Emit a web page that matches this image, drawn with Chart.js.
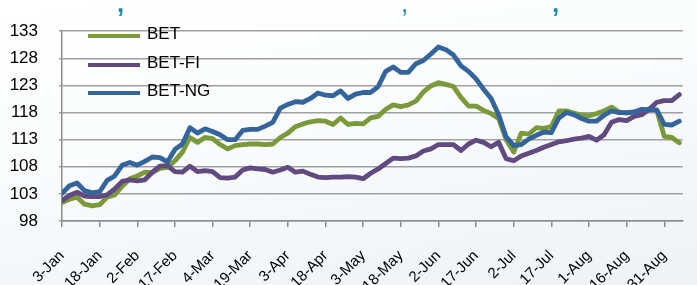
<!DOCTYPE html>
<html>
<head>
<meta charset="utf-8">
<script src="https://cdn.jsdelivr.net/npm/chart.js@4"></script>
<style>
  html, body { margin: 0; padding: 0; }
  body {
    width: 697px; height: 285px; overflow: hidden; position: relative;
    background: linear-gradient(170deg, #ffffff 0%, #f9fbfc 45%, #eef3f7 100%);
    font-family: "Liberation Sans", Arial, sans-serif;
  }
  #wrap { position: absolute; left: 0; top: 0; width: 697px; height: 285px; }
  .comma { position: absolute; top: -12px; color: #1d8ea8; font-size: 26px; font-weight: bold; }
  #legend { position: absolute; left: 88px; top: 24px; }
  .item { position: absolute; left: 0; height: 24px; white-space: nowrap; font-size: 17px; color: #000; }
  .item span.line { position: absolute; left: 0; top: 10px; width: 52px; height: 4px; }
  .item span.txt { position: absolute; left: 59px; top: 0; }
</style>
</head>
<body>
<div id="wrap"><canvas id="chart" width="697" height="285"></canvas></div>
<span class="comma" style="left:117px">,</span>
<span class="comma" style="left:401px;font-weight:normal">,</span>
<span class="comma" style="left:552px">,</span>
<div id="legend"></div>
<script>
// days counted from 3-Jan
const days = [0, 3, 6, 9, 12, 15, 18, 21, 24, 27, 30, 33, 36, 39, 42, 45, 48, 51, 54, 57,
  60, 63, 66, 69, 72, 75, 78, 81, 84, 87, 90, 93, 96, 99, 102, 105, 108, 111, 114, 117,
  120, 123, 126, 129, 132, 135, 138, 141, 144, 147, 150, 153, 156, 159, 162, 165, 168, 171, 174, 177,
  180, 183, 186, 189, 192, 195, 198, 201, 204, 207, 210, 213, 216, 219, 222, 225, 228, 231, 234, 237,
  240, 243, 246];

const tickLabels = ["3-Jan", "18-Jan", "2-Feb", "17-Feb", "4-Mar", "19-Mar", "3-Apr", "18-Apr", "3-May",
  "18-May", "2-Jun", "17-Jun", "2-Jul", "17-Jul", "1-Aug", "16-Aug", "31-Aug"];

const bet = [101.4, 102.0, 102.4, 101.1, 100.8, 101.0, 102.4, 102.8, 104.4, 105.8,
  106.3, 107.0, 106.9, 107.7, 107.9, 109.1, 110.7, 113.4, 112.5, 113.4,
  113.2, 112.1, 111.3, 111.9, 112.1, 112.2, 112.2, 112.1, 112.2, 113.4,
  114.2, 115.4, 115.9, 116.3, 116.5, 116.4, 115.8, 117.0, 115.8, 116.0,
  115.9, 117.0, 117.3, 118.6, 119.4, 119.1, 119.4, 120.1, 121.8, 122.9,
  123.5, 123.2, 122.8, 120.8, 119.2, 119.2, 118.4, 117.8, 116.9, 113.0,
  110.7, 114.2, 114.0, 115.2, 115.1, 115.4, 118.3, 118.3, 117.9, 117.5,
  117.4, 117.8, 118.3, 119.0, 118.1, 117.9, 118.1, 118.3, 118.7, 118.4,
  113.6, 113.4, 112.4];

const betFi = [101.8, 102.7, 103.3, 102.6, 102.5, 102.5, 102.8, 103.9, 105.3, 105.6,
  105.4, 105.6, 107.0, 108.1, 108.2, 107.1, 107.0, 108.1, 107.1, 107.3,
  107.1, 106.0, 105.9, 106.1, 107.4, 107.8, 107.6, 107.5, 107.0, 107.4,
  107.9, 107.0, 107.2, 106.6, 106.1, 106.0, 106.1, 106.1, 106.2, 106.1,
  105.8, 106.8, 107.6, 108.6, 109.6, 109.5, 109.6, 110.0, 110.9, 111.3,
  112.1, 112.1, 112.1, 111.0, 112.2, 112.9, 112.5, 111.7, 112.5, 109.5,
  109.1, 110.0, 110.5, 111.0, 111.6, 112.1, 112.6, 112.8, 113.1, 113.3,
  113.6, 112.9, 113.9, 116.2, 116.7, 116.5, 117.3, 117.6, 118.6, 119.9,
  120.2, 120.2, 121.3];

const betNg = [103.1, 104.5, 105.0, 103.6, 103.2, 103.4, 105.5, 106.3, 108.3, 108.8,
  108.3, 109.0, 109.8, 109.7, 108.9, 111.2, 112.2, 115.2, 114.2, 115.0,
  114.5, 113.9, 113.0, 113.0, 114.7, 114.9, 114.9, 115.5, 116.2, 118.8,
  119.5, 120.0, 119.9, 120.6, 121.6, 121.2, 121.1, 122.0, 120.6, 121.4,
  121.7, 121.7, 122.8, 125.6, 126.4, 125.4, 125.4, 127.0, 127.6, 128.8,
  130.1, 129.6, 128.6, 126.6, 125.6, 124.2, 122.3, 120.6, 117.6, 113.5,
  111.9, 112.1, 113.1, 113.8, 114.4, 114.3, 117.0, 118.0, 117.6, 116.9,
  116.4, 116.4, 117.5, 118.3, 118.0, 118.0, 118.1, 118.6, 118.5, 118.5,
  115.8, 115.7, 116.4];

const seriesNames = ["BET", "BET-FI", "BET-NG"];
const seriesColors = ["#7a9a3a", "#604a80", "#33649c"];
const seriesValues = [bet, betFi, betNg];

const toPoints = vals => vals.map((v, i) => ({ x: days[i], y: v }));

new Chart(document.getElementById("chart"), {
  type: "line",
  data: {
    datasets: seriesValues.map((vals, i) => ({
      label: seriesNames[i],
      data: toPoints(vals),
      borderColor: seriesColors[i],
      borderWidth: 4.8,
      pointRadius: 0,
      tension: 0,
      borderJoinStyle: "round",
      borderCapStyle: "round",
      order: 2 - i,
    })),
  },
  options: {
    responsive: false,
    animation: false,
    events: [],
    layout: { padding: { top: 20, left: 0, right: 0, bottom: 0 } },
    plugins: { legend: { display: false }, tooltip: { enabled: false } },
    scales: {
      x: {
        type: "linear",
        min: 0, max: 247.4,
        grid: { drawOnChartArea: false, drawTicks: true, tickLength: 6, color: "#8c8c8c", lineWidth: 1.5 },
        border: { color: "#8c8c8c", width: 1.5 },
        ticks: {
          stepSize: 15, includeBounds: false, autoSkip: false,
          maxRotation: 45, minRotation: 45, padding: 20,
          color: "#000", font: { family: "'Liberation Sans', Arial", size: 15 },
          callback: (v, i) => tickLabels[i],
        },
        afterFit: s => { s.height = 64; },
      },
      y: {
        min: 98, max: 133,
        grid: { color: "#a0a0a0", lineWidth: 1.5, tickLength: 3 },
        border: { color: "#8c8c8c", width: 1.5 },
        ticks: {
          stepSize: 5, padding: 21,
          color: "#000", font: { family: "'Liberation Sans', Arial", size: 17 },
        },
        afterFit: s => { s.width = 62; },
      },
    },
  },
});

// legend drawn in html, top-left inside the plot
const legend = document.getElementById("legend");
seriesNames.forEach((name, i) => {
  const item = document.createElement("div");
  item.className = "item";
  item.style.top = (i * 28.5) + "px";
  item.innerHTML = '<span class="line" style="background:' + seriesColors[i] + '"></span><span class="txt">' + name + "</span>";
  legend.appendChild(item);
});
</script>
</body>
</html>
